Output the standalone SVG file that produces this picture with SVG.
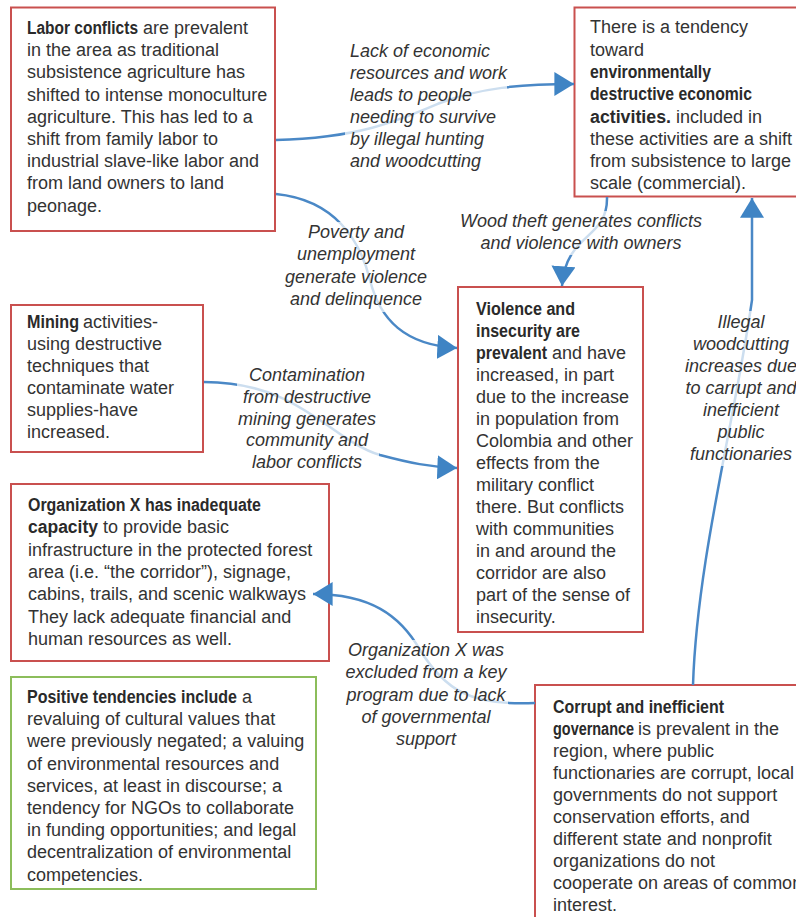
<svg xmlns="http://www.w3.org/2000/svg" width="796" height="917" viewBox="0 0 796 917">
<style>
.box{fill:#fff;stroke:#c9504f;stroke-width:2}
.gbox{fill:#fff;stroke:#8cbd5b;stroke-width:2}
.t{font-family:"Liberation Sans",Arial,sans-serif;font-size:18px;fill:#333}
.b{font-family:"Liberation Sans",Arial,sans-serif;font-weight:bold;fill:#2a2a2a}
.lbl{font-family:"Liberation Sans",Arial,sans-serif;font-size:18px;font-style:italic;fill:#333}
.c{text-anchor:middle}
.halo{fill:#fff;fill-opacity:0.72}
.edge{fill:none;stroke:#4a88c6;stroke-width:2.5}
</style>
<defs>
<marker id="arr" markerUnits="userSpaceOnUse" markerWidth="20" markerHeight="24" refX="18" refY="11" orient="auto" viewBox="0 0 18 22">
<path d="M0,0 L18,11 L0,22 z" fill="#3f84c4"/>
</marker>
</defs>

<g id="node-labor">
<rect class="box" x="11" y="7.5" width="264" height="223.5"/>
<text class="t"><tspan x="27" y="34" class="b" textLength="111" lengthAdjust="spacingAndGlyphs">Labor conflicts</tspan><tspan x="143" y="34">are prevalent</tspan><tspan x="27" y="56.2">in the area as traditional</tspan><tspan x="27" y="78.4">subsistence agriculture has</tspan><tspan x="27" y="100.6">shifted to intense monoculture</tspan><tspan x="27" y="122.8">agriculture. This has led to a</tspan><tspan x="27" y="145">shift from family labor to</tspan><tspan x="27" y="167.2">industrial slave-like labor and</tspan><tspan x="27" y="189.4">from land owners to land</tspan><tspan x="27" y="211.6">peonage.</tspan></text>
</g>

<g id="node-tendency">
<rect class="box" x="574.5" y="7.5" width="230" height="189"/>
<text class="t"><tspan x="590" y="33.3">There is a tendency</tspan><tspan x="590" y="55.6">toward</tspan><tspan x="590" y="77.9" class="b" textLength="121" lengthAdjust="spacingAndGlyphs">environmentally</tspan><tspan x="590" y="100.2" class="b" textLength="162" lengthAdjust="spacingAndGlyphs">destructive economic</tspan><tspan x="590" y="122.5" class="b" textLength="81" lengthAdjust="spacingAndGlyphs">activities.</tspan><tspan x="676" y="122.5">included in</tspan><tspan x="590" y="144.8">these activities are a shift</tspan><tspan x="590" y="167.1">from subsistence to large</tspan><tspan x="590" y="189.4">scale (commercial).</tspan></text>
</g>

<g id="node-violence">
<rect class="box" x="458" y="287" width="185" height="345"/>
<text class="t"><tspan x="476" y="315" class="b" textLength="99" lengthAdjust="spacingAndGlyphs">Violence and</tspan><tspan x="476" y="337" class="b" textLength="104" lengthAdjust="spacingAndGlyphs">insecurity are</tspan><tspan x="476" y="359" class="b" textLength="71" lengthAdjust="spacingAndGlyphs">prevalent</tspan><tspan x="552" y="359">and have</tspan><tspan x="476" y="381">increased, in part</tspan><tspan x="476" y="403">due to the increase</tspan><tspan x="476" y="425">in population from</tspan><tspan x="476" y="447">Colombia and other</tspan><tspan x="476" y="469">effects from the</tspan><tspan x="476" y="491">military conflict</tspan><tspan x="476" y="513">there. But conflicts</tspan><tspan x="476" y="535">with communities</tspan><tspan x="476" y="557">in and around the</tspan><tspan x="476" y="579">corridor are also</tspan><tspan x="476" y="601">part of the sense of</tspan><tspan x="476" y="623">insecurity.</tspan></text>
</g>

<g id="node-mining">
<rect class="box" x="11" y="305" width="192" height="147"/>
<text class="t"><tspan x="27" y="328" class="b" textLength="52" lengthAdjust="spacingAndGlyphs">Mining</tspan><tspan x="83" y="328">activities-</tspan><tspan x="27" y="350">using destructive</tspan><tspan x="27" y="372">techniques that</tspan><tspan x="27" y="394">contaminate water</tspan><tspan x="27" y="416">supplies-have</tspan><tspan x="27" y="438">increased.</tspan></text>
</g>

<g id="node-orgx">
<rect class="box" x="11" y="484" width="318" height="177"/>
<text class="t"><tspan x="28" y="511" class="b" textLength="233" lengthAdjust="spacingAndGlyphs">Organization X has inadequate</tspan><tspan x="28" y="533.3" class="b" textLength="70" lengthAdjust="spacingAndGlyphs">capacity</tspan><tspan x="103" y="533.3">to provide basic</tspan><tspan x="28" y="555.6">infrastructure in the protected forest</tspan><tspan x="28" y="577.9">area (i.e. “the corridor”), signage,</tspan><tspan x="28" y="600.2">cabins, trails, and scenic walkways</tspan><tspan x="28" y="622.5">They lack adequate financial and</tspan><tspan x="28" y="644.8">human resources as well.</tspan></text>
</g>

<g id="node-positive">
<rect class="gbox" x="11" y="677" width="305" height="212"/>
<text class="t"><tspan x="27" y="703" class="b" textLength="210" lengthAdjust="spacingAndGlyphs">Positive tendencies include</tspan><tspan x="242" y="703">a</tspan><tspan x="27" y="725.2">revaluing of cultural values that</tspan><tspan x="27" y="747.4">were previously negated; a valuing</tspan><tspan x="27" y="769.6">of environmental resources and</tspan><tspan x="27" y="791.8">services, at least in discourse; a</tspan><tspan x="27" y="814">tendency for NGOs to collaborate</tspan><tspan x="27" y="836.2">in funding opportunities; and legal</tspan><tspan x="27" y="858.4">decentralization of environmental</tspan><tspan x="27" y="880.6">competencies.</tspan></text>
</g>

<g id="node-corrupt">
<rect class="box" x="535" y="685" width="270" height="240"/>
<text class="t"><tspan x="553" y="713" class="b" textLength="171" lengthAdjust="spacingAndGlyphs">Corrupt and inefficient</tspan><tspan x="553" y="735" class="b" textLength="81" lengthAdjust="spacingAndGlyphs">governance</tspan><tspan x="638" y="735">is prevalent in the</tspan><tspan x="553" y="757">region, where public</tspan><tspan x="553" y="779">functionaries are corrupt, local</tspan><tspan x="553" y="801">governments do not support</tspan><tspan x="553" y="823">conservation efforts, and</tspan><tspan x="553" y="845">different state and nonprofit</tspan><tspan x="553" y="867">organizations do not</tspan><tspan x="553" y="889">cooperate on areas of common</tspan><tspan x="553" y="911">interest.</tspan></text>
</g>

<g id="connectors">
<path class="edge" d="M276,140 C360,138 400,120 440,103 C480,88 520,84 574,84" marker-end="url(#arr)"/>
<path class="edge" d="M276,194 C335,200 360,240 370,280 C380,320 405,345 457,348" marker-end="url(#arr)"/>
<path class="edge" d="M607,197 C608,240 566,232 562,286" marker-end="url(#arr)"/>
<path class="edge" d="M693,685 C697,560 735,420 752,300 L752,198" marker-end="url(#arr)"/>
<path class="edge" d="M204,382 C300,382 330,440 380,455 C410,463 430,467 457,468" marker-end="url(#arr)"/>
<path class="edge" d="M535,703 C470,706 445,690 420,650 C400,615 370,594 313,594" marker-end="url(#arr)"/>
</g>

<g id="label-lack">
<rect class="halo" x="345" y="40" width="162" height="132"/>
<text class="lbl"><tspan x="350" y="57">Lack of economic</tspan><tspan x="350" y="79">resources and work</tspan><tspan x="350" y="101">leads to people</tspan><tspan x="350" y="123">needing to survive</tspan><tspan x="350" y="145">by illegal hunting</tspan><tspan x="350" y="167">and woodcutting</tspan></text>
</g>
<g id="label-poverty">
<rect class="halo" x="286" y="222" width="142" height="90"/>
<text class="lbl c"><tspan x="356" y="238">Poverty and</tspan><tspan x="356" y="260">unemployment</tspan><tspan x="356" y="283">generate violence</tspan><tspan x="356" y="305">and delinquence</tspan></text>
</g>
<g id="label-wood">
<rect class="halo" x="458" y="211" width="246" height="44"/>
<text class="lbl c"><tspan x="581" y="227">Wood theft generates conflicts</tspan><tspan x="581" y="249">and violence with owners</tspan></text>
</g>
<g id="label-contamination">
<rect class="halo" x="237" y="364" width="142" height="110"/>
<text class="lbl c"><tspan x="307" y="381">Contamination</tspan><tspan x="307" y="403">from destructive</tspan><tspan x="307" y="425">mining generates</tspan><tspan x="307" y="446">community and</tspan><tspan x="307" y="468">labor conflicts</tspan></text>
</g>
<g id="label-illegal">
<rect class="halo" x="683" y="311" width="113" height="155"/>
<text class="lbl c"><tspan x="741" y="328">Illegal</tspan><tspan x="741" y="350">woodcutting</tspan><tspan x="741" y="372">increases due</tspan><tspan x="741" y="394">to carrupt and</tspan><tspan x="741" y="416">inefficient</tspan><tspan x="741" y="438">public</tspan><tspan x="741" y="460">functionaries</tspan></text>
</g>
<g id="label-orgx">
<rect class="halo" x="345" y="640" width="163" height="110"/>
<text class="lbl c"><tspan x="426" y="656">Organization X was</tspan><tspan x="426" y="678">excluded from a key</tspan><tspan x="426" y="701">program due to lack</tspan><tspan x="426" y="723">of governmental</tspan><tspan x="426" y="745">support</tspan></text>
</g>
</svg>
